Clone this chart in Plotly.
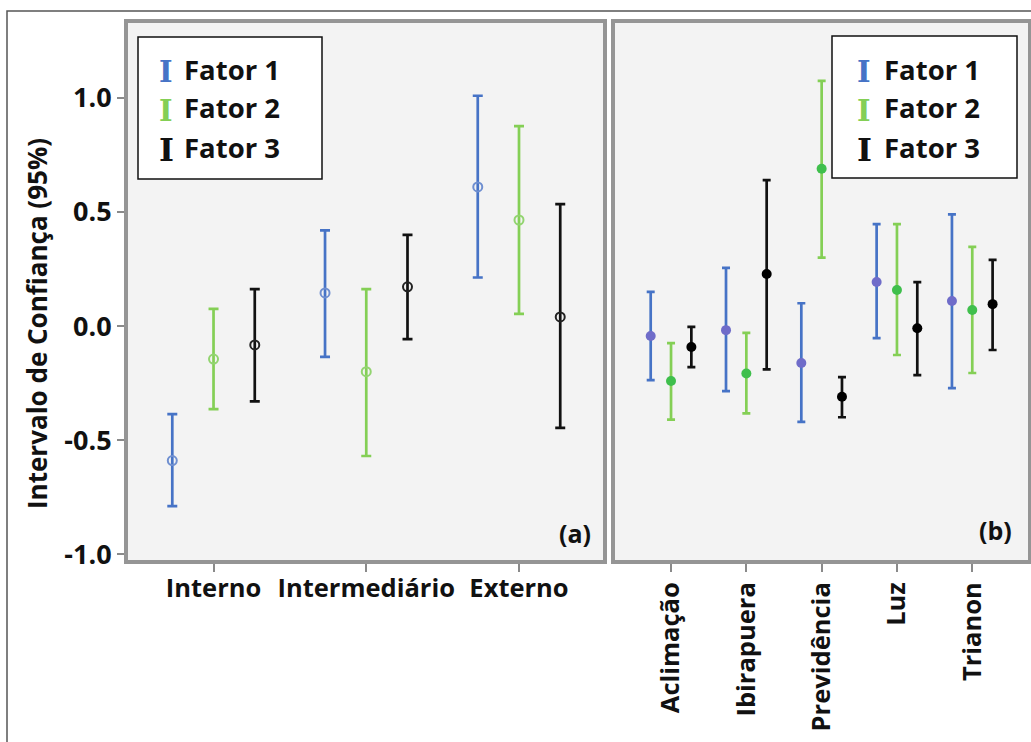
import plotly.graph_objects as go

W, H = 1031, 742

# ---------------- data ----------------
series = ["Fator 1", "Fator 2", "Fator 3"]

zonas = ["Interno", "Intermediário", "Externo"]
a_f1_mean = [-0.59, 0.145, 0.61]
a_f1_low = [-0.79, -0.135, 0.213]
a_f1_high = [-0.386, 0.42, 1.01]
a_f2_mean = [-0.145, -0.20, 0.465]
a_f2_low = [-0.364, -0.57, 0.053]
a_f2_high = [0.075, 0.162, 0.877]
a_f3_mean = [-0.083, 0.172, 0.04]
a_f3_low = [-0.33, -0.057, -0.447]
a_f3_high = [0.162, 0.40, 0.535]

parques = ["Aclimação", "Ibirapuera", "Previdência", "Luz", "Trianon"]
b_f1_mean = [-0.044, -0.018, -0.162, 0.193, 0.11]
b_f1_low = [-0.237, -0.285, -0.42, -0.053, -0.272]
b_f1_high = [0.15, 0.255, 0.10, 0.447, 0.49]
b_f2_mean = [-0.241, -0.208, 0.69, 0.158, 0.07]
b_f2_low = [-0.41, -0.383, 0.30, -0.127, -0.206]
b_f2_high = [-0.075, -0.03, 1.075, 0.447, 0.347]
b_f3_mean = [-0.092, 0.228, -0.31, -0.01, 0.096]
b_f3_low = [-0.18, -0.19, -0.40, -0.215, -0.105]
b_f3_high = [-0.004, 0.64, -0.224, 0.193, 0.29]

y_tickvals = [-1.0, -0.5, 0.0, 0.5, 1.0]
y_ticktext = ["-1.0", "-0.5", "0.0", "0.5", "1.0"]

# ---------------- style ----------------
bar_colors = ["#4673c6", "#84cf55", "#111111"]
open_marker_colors = ["#6f8fd0", "#92d470", "#222222"]
fill_marker_colors = ["#6f6cc9", "#3fbf4c", "#000000"]
offsets = [-0.27, 0.0, 0.27]
FONT = "Open Sans"
TXT = "#111111"


def px(x):
    return x / W


def py(y):
    return 1 - y / H


fig = go.Figure()

a_sets = [(a_f1_mean, a_f1_low, a_f1_high),
          (a_f2_mean, a_f2_low, a_f2_high),
          (a_f3_mean, a_f3_low, a_f3_high)]
b_sets = [(b_f1_mean, b_f1_low, b_f1_high),
          (b_f2_mean, b_f2_low, b_f2_high),
          (b_f3_mean, b_f3_low, b_f3_high)]

for i, (m, lo, hi) in enumerate(a_sets):
    fig.add_trace(go.Scatter(
        x=[k + offsets[i] for k in range(len(zonas))], y=m,
        mode="markers", name=series[i], showlegend=False,
        marker=dict(symbol="circle-open", size=9, color=open_marker_colors[i],
                    line=dict(width=2, color=open_marker_colors[i])),
        error_y=dict(type="data", symmetric=False,
                     array=[h - v for h, v in zip(hi, m)],
                     arrayminus=[v - l for v, l in zip(m, lo)],
                     color=bar_colors[i], thickness=2.7, width=5),
        xaxis="x", yaxis="y"))

for i, (m, lo, hi) in enumerate(b_sets):
    fig.add_trace(go.Scatter(
        x=[k + offsets[i] for k in range(len(parques))], y=m,
        mode="markers", name=series[i], showlegend=False,
        marker=dict(symbol="circle", size=10, color=fill_marker_colors[i]),
        error_y=dict(type="data", symmetric=False,
                     array=[h - v for h, v in zip(hi, m)],
                     arrayminus=[v - l for v, l in zip(m, lo)],
                     color=bar_colors[i], thickness=2.7, width=4),
        xaxis="x2", yaxis="y2"))

ydom = [py(560), py(23)]
yrange = [-1.026, 1.329]
frame = dict(showline=True, mirror=True, linecolor="#959595", linewidth=4,
             showgrid=False, zeroline=False)
tickfont = dict(family=FONT, size=27, color=TXT, weight="bold")
xtickfont = dict(family=FONT, size=25.5, color=TXT, weight="bold")

fig.update_layout(
    width=W, height=H,
    margin=dict(l=0, r=0, t=0, b=0),
    paper_bgcolor="white",
    plot_bgcolor="#f3f3f3",
    showlegend=False,
    hovermode=False,
    xaxis=dict(domain=[px(128), px(603)], range=[-0.56, 2.55], anchor="y",
               tickmode="array", tickvals=list(range(len(zonas))), ticktext=zonas,
               ticks="outside", ticklen=8, tickwidth=1.5, tickcolor="#8a8a8a",
               ticklabelstandoff=-6,
               tickfont=xtickfont, automargin=False, **frame),
    yaxis=dict(domain=ydom, range=yrange, anchor="x",
               tickmode="array", tickvals=y_tickvals, ticktext=y_ticktext,
               ticks="outside", ticklen=7, tickwidth=1.5, tickcolor="#8a8a8a",
               tickfont=tickfont, automargin=False, **frame),
    xaxis2=dict(domain=[px(615), px(1028)], range=[-0.744, 4.74], anchor="y2",
                tickmode="array", tickvals=list(range(len(parques))), ticktext=parques,
                tickangle=-90,
                ticks="outside", ticklen=8, tickwidth=1.5, tickcolor="#8a8a8a",
                tickfont=xtickfont, automargin=False, **frame),
    yaxis2=dict(domain=ydom, range=yrange, anchor="x2",
                showticklabels=False, ticks="", automargin=False, **frame),
)

# outer frame
fig.add_shape(type="rect", xref="paper", yref="paper",
              x0=px(7), x1=px(W + 10), y0=py(H + 10), y1=py(11),
              line=dict(color="#555555", width=1.5), layer="below")

annotations = []
# y-axis title
annotations.append(dict(text="Intervalo de Confiança (95%)", x=px(37), y=py(324),
                        xref="paper", yref="paper", showarrow=False, textangle=-90,
                        xanchor="center", yanchor="middle",
                        font=dict(family=FONT, size=26, color=TXT, weight="bold")))
# panel labels
for lab, lx, ly in [("(a)", 575, 533), ("(b)", 995, 530)]:
    annotations.append(dict(text=lab, x=px(lx), y=py(ly), xref="paper", yref="paper",
                            showarrow=False, xanchor="center", yanchor="middle",
                            font=dict(family=FONT, size=25, color=TXT, weight="bold")))

# legends (boxes with I-beam glyphs)
legend_boxes = [(138, 322, 37, 179, 166, 182), (832, 1017, 36, 178, 864, 882)]
item_y = [69, 108, 147]
for (x0, x1, y0, y1, gx, tx) in legend_boxes:
    fig.add_shape(type="rect", xref="paper", yref="paper",
                  x0=px(x0), x1=px(x1), y0=py(y1), y1=py(y0),
                  line=dict(color="#111111", width=1.5), fillcolor="white")
    for i, s in enumerate(series):
        annotations.append(dict(text="I", x=px(gx), y=py(item_y[i] + 3),
                                xref="paper", yref="paper", showarrow=False,
                                xanchor="center", yanchor="middle",
                                font=dict(family="DejaVu Serif", size=29 if i < 2 else 32,
                                          color=bar_colors[i], weight="bold")))
        annotations.append(dict(text=s, x=px(tx), y=py(item_y[i]),
                                xref="paper", yref="paper", showarrow=False,
                                xanchor="left", yanchor="middle",
                                font=dict(family=FONT, size=27.5, color=TXT,
                                          weight="bold")))

fig.update_layout(annotations=annotations)

fig.write_html(
    "out.html",
    config={"displayModeBar": False},
    post_script="document.body.style.margin='0';document.body.style.padding='0';"
                "document.body.style.overflow='hidden';",
)
